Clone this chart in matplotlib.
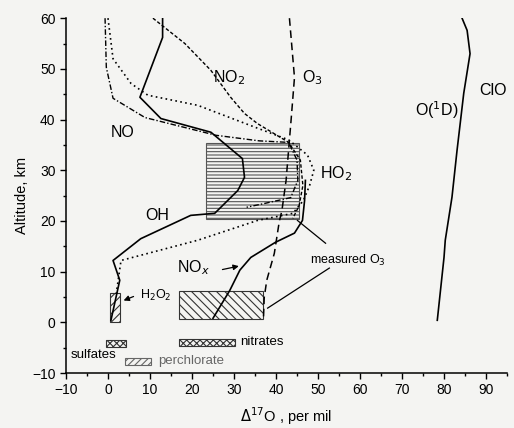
import matplotlib
matplotlib.use("Agg")
import matplotlib.pyplot as plt
from matplotlib.patches import Rectangle
from matplotlib.ticker import MultipleLocator

plt.rcParams["font.family"] = ["Liberation Sans", "DejaVu Sans"]
plt.rcParams["hatch.linewidth"] = 0.8

# ---- profiles: (delta17O per mil, altitude km) ----
o1d_x = [84.3, 85.5, 86.2, 84.7, 83.1, 81.9, 80.3, 80.0, 78.4]
o1d_y = [60, 57.6, 53, 45.2, 33.9, 24.7, 16.2, 12.8, 0.4]

o3_x = [43.2, 44.4, 43.6, 43.2, 42.4, 41.4, 40.8, 39.6, 37.8, 37.2, 37.0]
o3_y = [60, 48.3, 40, 36, 28, 22, 20, 13.6, 8.3, 4.9, 0.5]

no2_x = [10.7, 18.3, 24.5, 29.2, 32.5, 35.6, 43.0, 45.8, 46.4, 45.5, 44.0]
no2_y = [60, 55, 49.7, 44.4, 41.2, 39.2, 35.5, 32, 27, 23, 20.5]

no_x = [-0.7, -0.4, 1.2, 8.8, 25.7, 36.0, 43.0, 45.0, 45.2, 43.5, 37.0, 33.0]
no_y = [60, 50.3, 44.2, 40.4, 36.9, 35.8, 35.5, 32, 28, 24.6, 23.4, 22.7]

ho2_x = [0.0, 1.2, 5.5, 9.5, 21.4, 35.6, 43.0, 47.5, 49.0, 48.0, 46.5, 44.0, 35.6, 21.4, 3.1, 1.9]
ho2_y = [60, 52, 47.1, 44.8, 42.8, 38.3, 36, 33, 30, 27, 24, 21.5, 20.1, 16.2, 12.2, 5.3]

oh_x = [13.0, 13.0, 7.6, 12.6, 24.5, 32.0, 32.5, 30.9, 25.4, 19.7, 7.8, 1.2, 2.8, 0.7]
oh_y = [60, 56.2, 44.4, 40.2, 37.5, 32.3, 28.6, 26, 21.5, 21.1, 16.5, 12.2, 8.3, 0.4]

nox_x = [25.0, 29.0, 31.4, 34.0, 39.9, 44.4, 46.3, 46.8, 47.0]
nox_y = [0.8, 6.3, 10.3, 12.8, 15.8, 17.6, 20.1, 24, 28]

# measured ranges: (x0, x1, y0, y1)
o3_strat_box = (23.3, 45.4, 20.3, 35.3)
o3_surf_box = (16.9, 37.0, 0.6, 6.1)
h2o2_box = (0.5, 2.8, 0.0, 5.7)
nitrates_box = (16.9, 30.2, -4.6, -3.2)
sulfates_box = (-0.5, 4.3, -4.9, -3.5)
perchlorate_box = (4.0, 10.2, -8.5, -7.0)

fig = plt.figure(figsize=(5.14, 4.28), dpi=100, facecolor="#f4f4f2")
ax = fig.add_axes([0.1284, 0.1285, 0.858, 0.829])
ax.set_facecolor("#f4f4f2")


def box(rect, hatch, ec="#333333", lw=0.8):
    x0, x1, y0, y1 = rect
    ax.add_patch(Rectangle((x0, y0), x1 - x0, y1 - y0, fill=False,
                           hatch=hatch, edgecolor=ec, linewidth=lw))


box(o3_strat_box, "-----", ec="#555555")
box(o3_surf_box, "\\\\\\\\")
box(h2o2_box, "////")
box(nitrates_box, "xxxxx")
box(sulfates_box, "xxxxx")
box(perchlorate_box, "/////", ec="#666666")

ax.plot(o1d_x, o1d_y, color="k", lw=1.2)
ax.plot(o3_x, o3_y, color="k", lw=1.1, dashes=(5, 3))
ax.plot(no2_x, no2_y, color="k", lw=1.0, dashes=(2.5, 1.5))
ax.plot(no_x, no_y, color="k", lw=1.0, dashes=(4, 1.5, 1, 1.5))
ax.plot(ho2_x, ho2_y, color="k", lw=1.2, dashes=(1, 2))
ax.plot(oh_x, oh_y, color="k", lw=1.2)
ax.plot(nox_x, nox_y, color="k", lw=1.2)

# species labels
big = 11.5
ax.text(25.0, 48.3, "NO$_2$", fontsize=big, va="center")
ax.text(46.3, 48.3, "O$_3$", fontsize=big, va="center")
ax.text(73.2, 41.8, "O($^1$D)", fontsize=big, va="center")
ax.text(88.4, 45.8, "ClO", fontsize=big, va="center")
ax.text(0.7, 37.5, "NO", fontsize=big, va="center")
ax.text(50.4, 29.4, "HO$_2$", fontsize=big, va="center")
ax.text(8.8, 21.0, "OH", fontsize=big, va="center")
ax.text(16.4, 10.7, "NO$_x$", fontsize=big, va="center")
ax.text(7.6, 5.3, "H$_2$O$_2$", fontsize=9, va="center")
ax.text(48.0, 12.2, "measured O$_3$", fontsize=9, va="center")
ax.text(31.4, -3.9, "nitrates", fontsize=9.5, va="center")
ax.text(-9.0, -6.5, "sulfates", fontsize=9.5, va="center")
ax.text(11.9, -7.7, "perchlorate", fontsize=9.5, va="center", color="#666666")

# pointers
ax.annotate("", xy=(31.8, 11.2), xytext=(26.6, 10.3),
            arrowprops=dict(arrowstyle="-|>", color="k", lw=0.9, mutation_scale=8))
ax.annotate("", xy=(3.1, 4.1), xytext=(6.7, 5.3),
            arrowprops=dict(arrowstyle="-|>", color="k", lw=0.9, mutation_scale=8))
ax.plot([51.8, 45.1], [15.6, 20.1], color="k", lw=0.9)
ax.plot([52.7, 38.0], [10.7, 2.8], color="k", lw=0.9)

ax.set_xlim(-10, 95)
ax.set_ylim(-10, 60)
ax.xaxis.set_major_locator(MultipleLocator(10))
ax.xaxis.set_minor_locator(MultipleLocator(5))
ax.yaxis.set_major_locator(MultipleLocator(10))
ax.yaxis.set_minor_locator(MultipleLocator(5))
ax.tick_params(which="major", direction="out", length=4, width=1, labelsize=10)
ax.tick_params(which="minor", direction="out", length=2.5, width=1)

ax.spines["top"].set_visible(False)
ax.spines["right"].set_visible(False)
ax.spines["left"].set_linewidth(1.1)
ax.spines["bottom"].set_linewidth(1.1)

ax.set_xlabel("$\\Delta^{17}$O , per mil", fontsize=10.5, labelpad=6)
ax.set_ylabel("Altitude, km", fontsize=10.5, labelpad=2)

fig.savefig("out.png", dpi=100, facecolor=fig.get_facecolor())
